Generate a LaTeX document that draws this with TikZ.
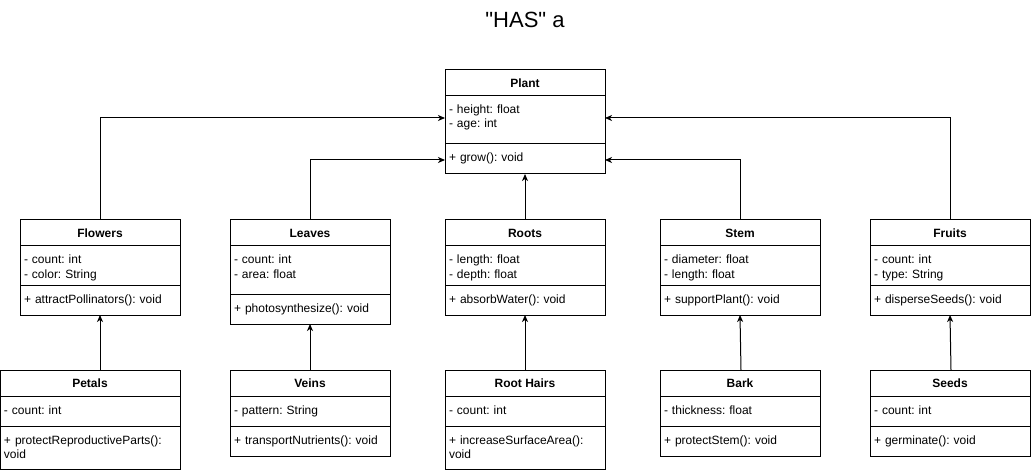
\documentclass[tikz,border=0pt]{standalone}
\usepackage{fontspec}
\setmainfont{Liberation Sans}[Ligatures=TeXOff]
\usetikzlibrary{positioning,arrows.meta}
\frenchspacing

\begin{document}
\begin{tikzpicture}
    [x=1pt, y=-1pt
    ,line width=1pt
    ,>={Stealth[length=7pt,width=6pt,inset=2pt]}
    ,cname/.style={draw, minimum width=160pt, minimum height=26pt, inner sep=0pt, outer sep=0pt, font=\bfseries\fontsize{12}{14}\selectfont}
    ,cbody/.style={draw, text width=152pt, inner xsep=4pt, inner ysep=0pt, outer sep=0pt, align=left, text height=18pt, font=\fontsize{12}{14}\selectfont}
    ]

    \useasboundingbox (0,0) rectangle (1031,473);

    \node[font=\fontsize{22}{26}\selectfont] (title) at (525,20) {"HAS" a};

    % top class
    \node[cname] (plant) at (525,83) {Plant};
    \node[cbody, text depth=30pt, below=0pt of plant] (plantA) {- height: float\\- age: int};
    \node[cbody, text depth=12pt, below=0pt of plantA] (plantM) {+ grow(): void};

    % parts
    \node[cname] (flowers) at (100,233) {Flowers};
    \node[cbody, text depth=21pt, below=0pt of flowers] (flowersA) {- count: int\\- color: String};
    \node[cbody, text depth=12pt, below=0pt of flowersA] (flowersM) {+ attractPollinators(): void};

    \node[cname] (leaves) at (310,233) {Leaves};
    \node[cbody, text depth=30pt, below=0pt of leaves] (leavesA) {- count: int\\- area: float};
    \node[cbody, text depth=12pt, below=0pt of leavesA] (leavesM) {+ photosynthesize(): void};

    \node[cname] (roots) at (525,233) {Roots};
    \node[cbody, text depth=21pt, below=0pt of roots] (rootsA) {- length: float\\- depth: float};
    \node[cbody, text depth=12pt, below=0pt of rootsA] (rootsM) {+ absorbWater(): void};

    \node[cname] (stem) at (740,233) {Stem};
    \node[cbody, text depth=21pt, below=0pt of stem] (stemA) {- diameter: float\\- length: float};
    \node[cbody, text depth=12pt, below=0pt of stemA] (stemM) {+ supportPlant(): void};

    \node[cname] (fruits) at (950,233) {Fruits};
    \node[cbody, text depth=21pt, below=0pt of fruits] (fruitsA) {- count: int\\- type: String};
    \node[cbody, text depth=12pt, below=0pt of fruitsA] (fruitsM) {+ disperseSeeds(): void};

    % sub parts
    \node[cname, minimum width=180pt] (petals) at (90,383) {Petals};
    \node[cbody, text width=172pt, text depth=12pt, below=0pt of petals] (petalsA) {- count: int};
    \node[cbody, text width=172pt, text depth=25pt, below=0pt of petalsA] (petalsM) {+ protectReproductiveParts():\\void};

    \node[cname] (veins) at (310,383) {Veins};
    \node[cbody, text depth=12pt, below=0pt of veins] (veinsA) {- pattern: String};
    \node[cbody, text depth=12pt, below=0pt of veinsA] (veinsM) {+ transportNutrients(): void};

    \node[cname] (hairs) at (525,383) {Root Hairs};
    \node[cbody, text depth=12pt, below=0pt of hairs] (hairsA) {- count: int};
    \node[cbody, text depth=25pt, below=0pt of hairsA] (hairsM) {+ increaseSurfaceArea():\\void};

    \node[cname] (bark) at (740,383) {Bark};
    \node[cbody, text depth=12pt, below=0pt of bark] (barkA) {- thickness: float};
    \node[cbody, text depth=12pt, below=0pt of barkA] (barkM) {+ protectStem(): void};

    \node[cname] (seeds) at (950,383) {Seeds};
    \node[cbody, text depth=12pt, below=0pt of seeds] (seedsA) {- count: int};
    \node[cbody, text depth=12pt, below=0pt of seedsA] (seedsM) {+ germinate(): void};

    % has-a links
    \draw [->] (flowers.north) |- ([yshift=2pt]plantA.west);
    \draw [->] (leaves.north) |- ([yshift=-1pt]plantM.west);
    \draw [->] (roots.north) -- (plantM.south);
    \draw [->] (stem.north) |- ([yshift=-1pt]plantM.east);
    \draw [->] (fruits.north) |- ([yshift=2pt]plantA.east);

    \draw [->] (petals.north -| flowersM.south) -- (flowersM.south);
    \draw [->] (veins.north) -- (leavesM.south);
    \draw [->] (hairs.north) -- (rootsM.south);
    \draw [->] ([xshift=1pt]bark.north) -- (stemM.south);
    \draw [->] ([xshift=1pt]seeds.north) -- (fruitsM.south);

\end{tikzpicture}
\end{document}
